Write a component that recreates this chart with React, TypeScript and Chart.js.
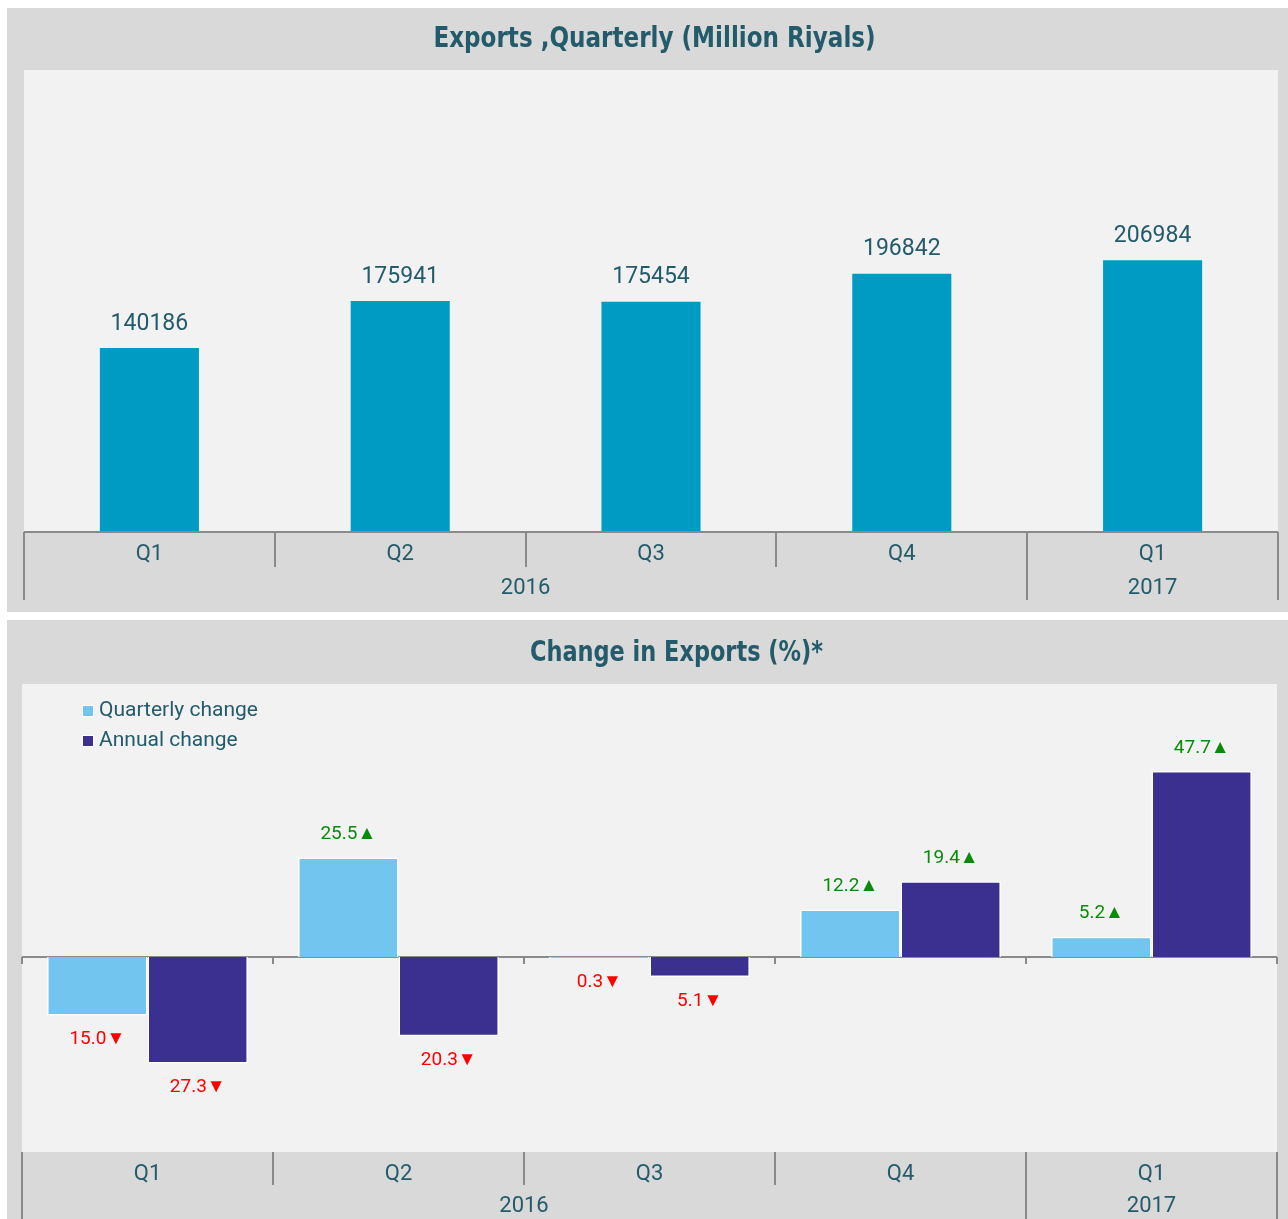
import React, { useEffect, useRef } from 'react';
import { Chart, registerables } from 'chart.js';

Chart.register(...registerables);

// ---------- data ----------
const quarters = ['Q1', 'Q2', 'Q3', 'Q4', 'Q1'];
const years = ['2016', '2017'];
const yearSpans = [4, 1];
const exportsValues = [140186, 175941, 175454, 196842, 206984];
const quarterlyChange = [-15.0, 25.5, -0.3, 12.2, 5.2];
const annualChange = [-27.3, -20.3, -5.1, 19.4, 47.7];
const seriesNames = ['Quarterly change', 'Annual change'];
const titles = ['Exports ,Quarterly (Million Riyals)', 'Change in Exports (%)*'];

// ---------- styles ----------
const TEXT = '#245b6b';
const AXIS = '#8a8a8a';
const PLOT_BG = '#f2f2f2';
const BAR_MAIN = '#009bc2';
const BAR_Q = '#72c5ef';
const BAR_A = '#3b2f8f';
const GREEN = '#0a8a0a';
const RED = '#ff0000';
const TITLE_FONT = "'DejaVu Sans Condensed', 'DejaVu Sans', sans-serif";
const BODY_FONT = "Roboto, 'Liberation Sans', sans-serif";

const plotBg = {
  id: 'plotBg',
  beforeDraw(chart: any) {
    const { ctx, chartArea } = chart;
    ctx.save();
    ctx.fillStyle = PLOT_BG;
    ctx.fillRect(chartArea.left, chartArea.top, chartArea.right - chartArea.left, chartArea.bottom - chartArea.top);
    ctx.restore();
  },
};

function condensedTitle(text: string, cxOffset: number, cy: number, sx: number) {
  return {
    id: 'condensedTitle',
    afterDraw(chart: any) {
      const { ctx } = chart;
      ctx.save();
      ctx.font = `bold 29px ${TITLE_FONT}`;
      ctx.fillStyle = TEXT;
      ctx.textAlign = 'center';
      ctx.textBaseline = 'middle';
      ctx.translate(chart.width / 2 + cxOffset, cy);
      ctx.scale(sx, 1);
      ctx.fillText(text, 0, 0);
      ctx.restore();
    },
  };
}

function groupedAxis(cfg: { baseline: boolean; shortLen: number; longEnd: number; yearY: number; zeroLine: boolean }) {
  return {
    id: 'groupedAxis',
    beforeDatasetsDraw(chart: any) {
      if (!cfg.zeroLine) return;
      const { ctx, chartArea, scales } = chart;
      const y0 = Math.round(scales.y.getPixelForValue(0));
      ctx.save();
      ctx.strokeStyle = AXIS;
      ctx.lineWidth = 2;
      ctx.beginPath();
      ctx.moveTo(chartArea.left, y0);
      ctx.lineTo(chartArea.right, y0);
      for (let i = 0; i <= quarters.length; i++) {
        const px = Math.round(scales.x.getPixelForValue(i - 0.5));
        ctx.moveTo(px, y0);
        ctx.lineTo(px, y0 + 7);
      }
      ctx.stroke();
      ctx.restore();
    },
    afterDraw(chart: any) {
      const { ctx, chartArea, scales } = chart;
      const x = scales.x;
      const bottom = chartArea.bottom;
      const yearBounds = new Set<number>([0]);
      let acc = 0;
      yearSpans.forEach((s) => { acc += s; yearBounds.add(acc); });
      ctx.save();
      ctx.strokeStyle = AXIS;
      ctx.lineWidth = 2;
      ctx.beginPath();
      if (cfg.baseline) {
        ctx.moveTo(chartArea.left, bottom);
        ctx.lineTo(chartArea.right, bottom);
      }
      for (let i = 0; i <= quarters.length; i++) {
        const px = Math.round(x.getPixelForValue(i - 0.5));
        ctx.moveTo(px, bottom);
        ctx.lineTo(px, yearBounds.has(i) ? cfg.longEnd : bottom + cfg.shortLen);
      }
      ctx.stroke();
      ctx.fillStyle = TEXT;
      ctx.font = `22px ${BODY_FONT}`;
      ctx.textAlign = 'center';
      ctx.textBaseline = 'middle';
      let start = 0;
      years.forEach((yl, k) => {
        const end = start + yearSpans[k] - 1;
        const cx = (x.getPixelForValue(start - 0.5) + x.getPixelForValue(end + 0.5)) / 2;
        ctx.fillText(yl, cx, cfg.yearY);
        start += yearSpans[k];
      });
      ctx.restore();
    },
  };
}

const valueLabels = {
  id: 'valueLabels',
  afterDatasetsDraw(chart: any) {
    const { ctx } = chart;
    ctx.save();
    ctx.textAlign = 'center';
    ctx.textBaseline = 'middle';
    chart.data.datasets.forEach((ds: any, di: number) => {
      const meta = chart.getDatasetMeta(di);
      meta.data.forEach((el: any, i: number) => {
        const v = ds.data[i];
        if (ds.signed) {
          ctx.font = `19px ${BODY_FONT}`;
          if (v >= 0) {
            ctx.fillStyle = GREEN;
            ctx.fillText(`${v.toFixed(1)}\u25B2`, el.x, el.y - 23);
          } else {
            ctx.fillStyle = RED;
            ctx.fillText(`${Math.abs(v).toFixed(1)}\u25BC`, el.x, el.y + 24);
          }
        } else {
          ctx.font = `23px ${BODY_FONT}`;
          ctx.fillStyle = TEXT;
          ctx.fillText(String(v), el.x, el.y - 24);
        }
      });
    });
    ctx.restore();
  },
};

const boxLegend = {
  id: 'boxLegend',
  afterDraw(chart: any) {
    const { ctx, chartArea } = chart;
    ctx.save();
    ctx.font = `21px ${BODY_FONT}`;
    ctx.textAlign = 'left';
    ctx.textBaseline = 'middle';
    chart.data.datasets.forEach((ds: any, i: number) => {
      const cy = chartArea.top + 27 + i * 30;
      const sx = chartArea.left + 61;
      ctx.fillStyle = ds.backgroundColor;
      ctx.fillRect(sx, cy - 5, 10, 10);
      ctx.strokeStyle = '#ffffff';
      ctx.lineWidth = 1;
      ctx.strokeRect(sx - 0.5, cy - 5.5, 11, 11);
      ctx.fillStyle = TEXT;
      ctx.fillText(ds.label, sx + 16, cy);
    });
    ctx.restore();
  },
};

function xAxis(height: number, padding: number) {
  return {
    type: 'category' as const,
    offset: true,
    grid: { display: false, drawTicks: false },
    border: { display: false },
    ticks: { color: TEXT, font: { family: BODY_FONT, size: 22 }, padding, maxRotation: 0, autoSkip: false },
    afterFit: (scale: any) => { scale.height = height; },
  };
}

export default function App() {
  const topRef = useRef<HTMLCanvasElement>(null);
  const botRef = useRef<HTMLCanvasElement>(null);

  useEffect(() => {
    const c1 = new Chart(topRef.current as HTMLCanvasElement, {
      type: 'bar',
      data: {
        labels: quarters,
        datasets: [
          {
            label: 'Exports',
            data: exportsValues,
            backgroundColor: BAR_MAIN,
            borderWidth: 0,
            categoryPercentage: 0.79,
            barPercentage: 0.5,
          } as any,
        ],
      },
      options: {
        responsive: false,
        animation: false,
        layout: { padding: { left: 17, right: 10, top: 62, bottom: 0 } },
        plugins: {
          legend: { display: false },
          tooltip: { enabled: false },
          title: { display: false },
        },
        scales: {
          x: xAxis(80, 9) as any,
          y: { display: false, min: 0, max: 352000 },
        },
      },
      plugins: [
        plotBg,
        groupedAxis({ baseline: true, shortLen: 35, longEnd: 592, yearY: 580, zeroLine: false }),
        valueLabels,
        condensedTitle(titles[0], 7, 31, 0.885),
      ],
    });

    const c2 = new Chart(botRef.current as HTMLCanvasElement, {
      type: 'bar',
      data: {
        labels: quarters,
        datasets: [
          {
            label: seriesNames[0],
            data: quarterlyChange,
            backgroundColor: BAR_Q,
            borderColor: '#ffffff',
            borderWidth: 1.5,
            signed: true,
          } as any,
          {
            label: seriesNames[1],
            data: annualChange,
            backgroundColor: BAR_A,
            borderColor: '#ffffff',
            borderWidth: 1.5,
            signed: true,
          } as any,
        ],
      },
      options: {
        responsive: false,
        animation: false,
        datasets: { bar: { categoryPercentage: 0.8, barPercentage: 1.0 } },
        layout: { padding: { left: 15, right: 11, top: 64, bottom: 0 } },
        plugins: {
          legend: { display: false },
          tooltip: { enabled: false },
          title: { display: false },
        },
        scales: {
          x: xAxis(67, 9) as any,
          y: { display: false, min: -50, max: 70 },
        },
      },
      plugins: [
        plotBg,
        groupedAxis({ baseline: false, shortLen: 33, longEnd: 599, yearY: 586, zeroLine: true }),
        valueLabels,
        boxLegend,
        condensedTitle(titles[1], 29, 33, 0.86),
      ],
    });

    return () => {
      c1.destroy();
      c2.destroy();
    };
  }, []);

  return (
    <div style={{ position: 'absolute', left: 0, top: 0, width: 1288, height: 1219, overflow: 'hidden', background: '#ffffff' }}>
      <div style={{ position: 'absolute', left: 7, top: 8, width: 1281, height: 604, background: '#d9d9d9' }}>
        <canvas ref={topRef} width={1281} height={604} style={{ display: 'block' }} />
      </div>
      <div style={{ position: 'absolute', left: 7, top: 620, width: 1281, height: 599, background: '#d9d9d9' }}>
        <canvas ref={botRef} width={1281} height={599} style={{ display: 'block' }} />
      </div>
    </div>
  );
}
